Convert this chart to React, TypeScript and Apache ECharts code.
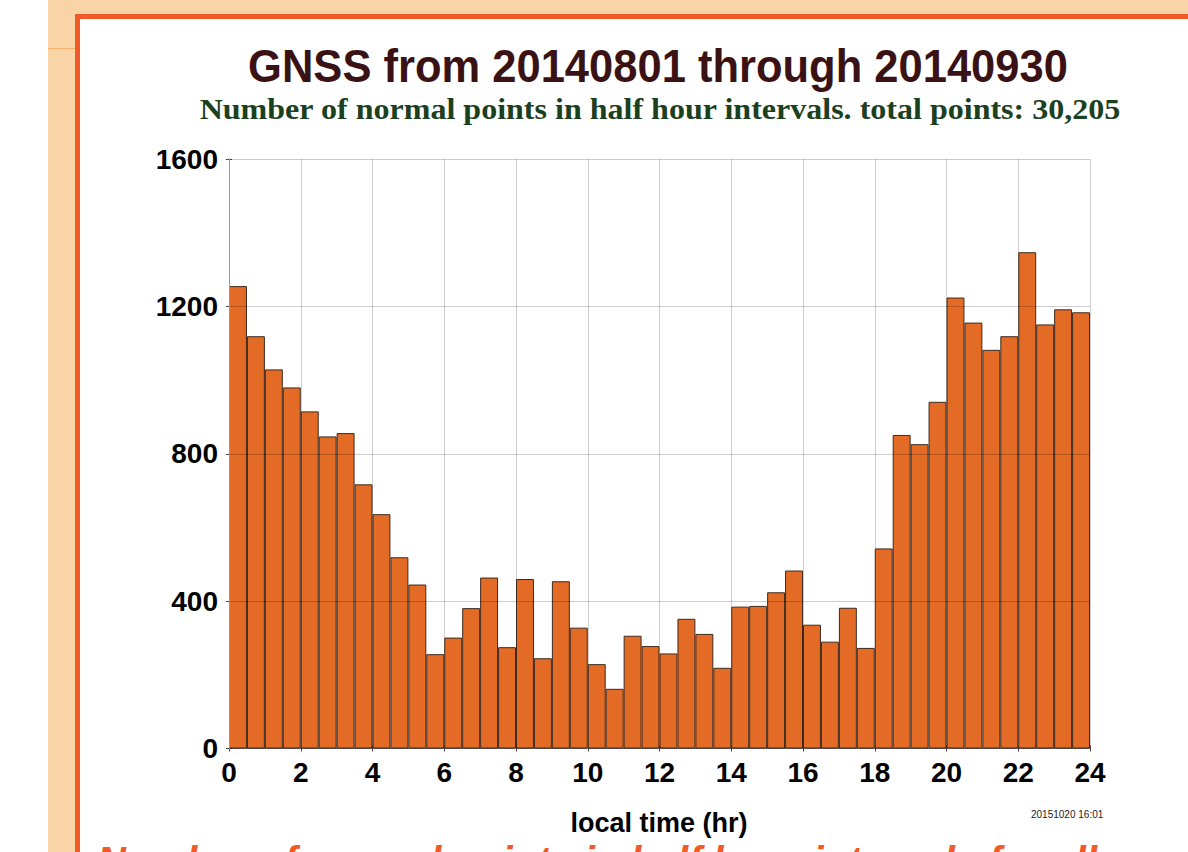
import React, { useEffect, useRef } from "react";
import * as echarts from "echarts";

// Half-hour bin starts (local time, hours)
const binStarts = [
  0, 0.5, 1, 1.5, 2, 2.5, 3, 3.5, 4, 4.5, 5, 5.5,
  6, 6.5, 7, 7.5, 8, 8.5, 9, 9.5, 10, 10.5, 11, 11.5,
  12, 12.5, 13, 13.5, 14, 14.5, 15, 15.5, 16, 16.5, 17, 17.5,
  18, 18.5, 19, 19.5, 20, 20.5, 21, 21.5, 22, 22.5, 23, 23.5,
];

// Number of normal points per half-hour bin
const counts = [
  1255, 1119, 1029, 980, 915, 847, 856, 717, 636, 519, 445, 256,
  301, 381, 464, 275, 460, 245, 454, 328, 229, 162, 306, 278,
  258, 352, 311, 219, 385, 387, 424, 483, 336, 290, 382, 273,
  543, 851, 826, 941, 1224, 1156, 1082, 1119, 1347, 1151, 1192, 1184,
];

const yTicks = [0, 400, 800, 1200, 1600];
const xTicks = [0, 2, 4, 6, 8, 10, 12, 14, 16, 18, 20, 22, 24];

const titleText = "GNSS from 20140801 through 20140930";
const subtitleText =
  "Number of normal points in half hour intervals. total points: 30,205";
const xAxisTitle = "local time (hr)";
const stampText = "20151020 16:01";
const footerText = "Number of normal points in half hour intervals for all";

export default function App() {
  const ref = useRef<HTMLDivElement>(null);

  useEffect(() => {
    if (!ref.current) return;
    const chart = echarts.init(ref.current, undefined, { renderer: "svg" });
    const yMin = yTicks[0];
    const yMax = yTicks[yTicks.length - 1];
    const yInt = yTicks[1] - yTicks[0];
    const xMin = xTicks[0];
    const xMax = xTicks[xTicks.length - 1];
    const xInt = xTicks[1] - xTicks[0];
    const labelFont = {
      fontFamily: "Liberation Sans",
      fontWeight: "bold" as const,
      fontSize: 28,
      color: "#000",
    };

    chart.setOption({
      animation: false,
      backgroundColor: "transparent",
      grid: { left: 229, top: 159, width: 861, height: 589.5, containLabel: false },
      xAxis: [
        {
          type: "value",
          position: "bottom",
          min: xMin,
          max: xMax,
          interval: xInt,
          axisLine: { show: true, lineStyle: { color: "#555", width: 1 } },
          axisTick: { show: true, length: 3, lineStyle: { color: "#444" } },
          axisLabel: { ...labelFont, margin: 10, formatter: (v: number) => String(v) },
          splitLine: { show: true, lineStyle: { color: "#d0d0d0", width: 1 } },
        },
        {
          type: "value",
          position: "top",
          min: xMin,
          max: xMax,
          interval: xInt,
          axisLine: { show: true, lineStyle: { color: "#888", width: 1 } },
          axisTick: { show: true, length: 3, lineStyle: { color: "#444" } },
          axisLabel: { show: false },
          splitLine: { show: false },
        },
        {
          type: "category",
          data: binStarts.map(String),
          boundaryGap: true,
          show: false,
        },
      ],
      yAxis: [
        {
          type: "value",
          position: "left",
          min: yMin,
          max: yMax,
          interval: yInt,
          z: 3,
          axisLine: { show: true, lineStyle: { color: "#999", width: 1 } },
          axisTick: { show: true, length: 3, lineStyle: { color: "#444" } },
          axisLabel: { ...labelFont, margin: 11, formatter: (v: number) => String(v) },
          splitLine: { show: true, lineStyle: { color: "rgba(0,0,0,0.2)", width: 1 } },
        },
        {
          type: "value",
          position: "right",
          min: yMin,
          max: yMax,
          interval: yInt,
          axisLine: { show: true, lineStyle: { color: "#bbb", width: 1 } },
          axisTick: { show: true, length: 3, lineStyle: { color: "#444" } },
          axisLabel: { show: false },
          splitLine: { show: false },
        },
      ],
      series: [
        {
          type: "bar",
          xAxisIndex: 2,
          yAxisIndex: 0,
          data: counts,
          barCategoryGap: "0%",
          itemStyle: { color: "#e46b26", borderColor: "#3d2a1e", borderWidth: 1 },
          silent: true,
        },
      ],
      graphic: [
        {
          type: "text",
          x: 658,
          y: 66,
          scaleX: 0.946,
          style: {
            text: titleText,
            x: 0,
            y: 0,
            align: "center",
            verticalAlign: "middle",
            font: 'bold 46px "Liberation Sans"',
            fill: "#3b1214",
          },
        },
        {
          type: "text",
          x: 660,
          y: 110,
          scaleX: 1.105,
          style: {
            text: subtitleText,
            x: 0,
            y: 0,
            align: "center",
            verticalAlign: "middle",
            font: 'bold 29px "Liberation Serif"',
            fill: "#1b4020",
          },
        },
        {
          type: "text",
          x: 659,
          y: 823,
          style: {
            text: xAxisTitle,
            x: 0,
            y: 0,
            align: "center",
            verticalAlign: "middle",
            font: 'bold 27px "Liberation Sans"',
            fill: "#000",
          },
        },
        {
          type: "text",
          x: 1031,
          y: 814,
          style: {
            text: stampText,
            x: 0,
            y: 0,
            align: "left",
            verticalAlign: "middle",
            font: '10px "Liberation Sans"',
            fill: "#222",
          },
        },
        {
          type: "text",
          x: 97,
          y: 861,
          style: {
            text: footerText,
            x: 0,
            y: 0,
            align: "left",
            verticalAlign: "middle",
            font: 'italic bold 40px "Liberation Sans"',
            fill: "#f05a28",
          },
        },
      ],
    });
    return () => chart.dispose();
  }, []);

  return (
    <div style={{ position: "fixed", left: 0, top: 0, width: 1188, height: 852, background: "#fff", overflow: "hidden" }}>
      <div style={{ position: "absolute", left: 48, top: 0, width: 1140, height: 852, background: "#f9d4a6" }} />
      <div style={{ position: "absolute", left: 48, top: 48, width: 27, height: 1, background: "#f6b36b" }} />
      <div style={{ position: "absolute", left: 75, top: 14, width: 1113, height: 838, background: "#f05a28" }} />
      <div style={{ position: "absolute", left: 80, top: 19, width: 1108, height: 833, background: "#fff" }} />
      <div ref={ref} style={{ position: "absolute", left: 0, top: 0, width: 1188, height: 852 }} />
    </div>
  );
}
